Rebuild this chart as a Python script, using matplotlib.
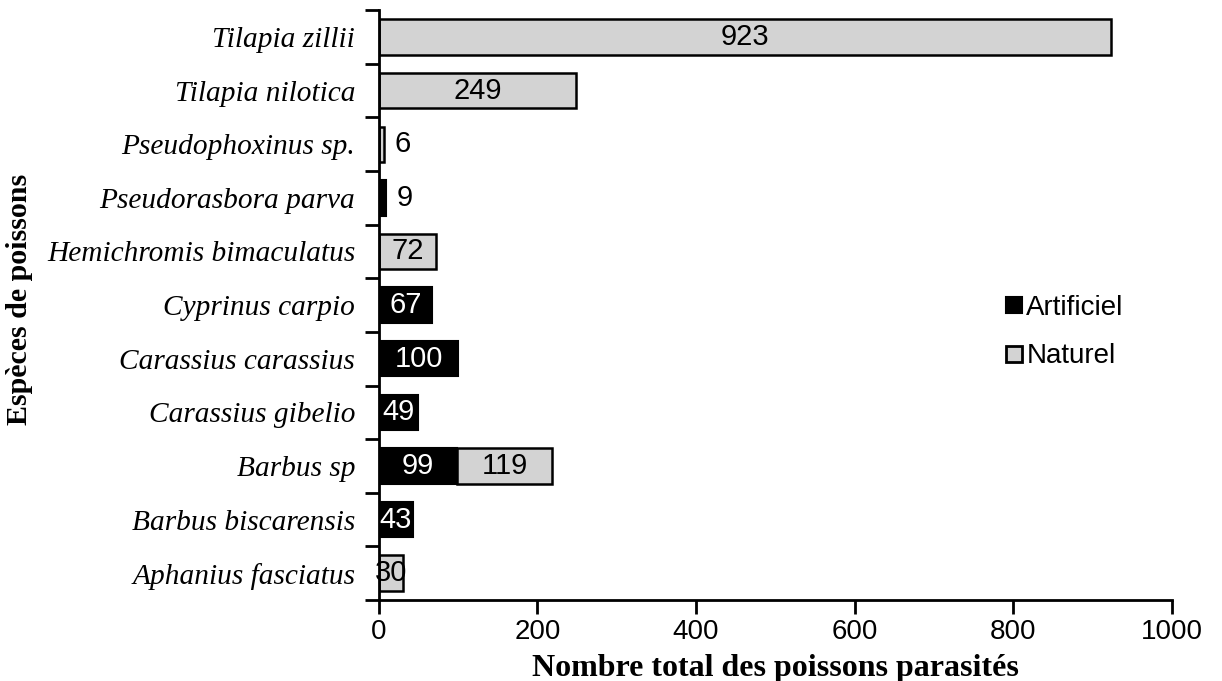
import numpy as np
import matplotlib.pyplot as plt
from matplotlib.lines import Line2D

# especes, du bas vers le haut
especes = ['Aphanius fasciatus', 'Barbus biscarensis', 'Barbus sp', 'Carassius gibelio',
           'Carassius carassius', 'Cyprinus carpio', 'Hemichromis bimaculatus',
           'Pseudorasbora parva', 'Pseudophoxinus sp.', 'Tilapia nilotica', 'Tilapia zillii']
artificiel = [0, 43, 99, 49, 100, 67, 0, 9, 0, 0, 0]
naturel = [30, 0, 119, 0, 0, 0, 72, 0, 6, 249, 923]
xticks = [0, 200, 400, 600, 800, 1000]

gris = '#d3d3d3'

fig = plt.figure(figsize=(12.22, 6.81), dpi=100)
ax = fig.add_axes([0.310, 0.119, 0.649, 0.866])

y = np.arange(len(especes))
h = 0.66
art = np.array(artificiel)
nat = np.array(naturel)

ax.barh(y[art > 0], art[art > 0], height=h, color='black', edgecolor='black', linewidth=1.5)
ax.barh(y[nat > 0], nat[nat > 0], left=art[nat > 0], height=h, color=gris,
        edgecolor='black', linewidth=1.8)

lab_font = dict(family='Liberation Sans', fontsize=21)
for i in range(len(especes)):
    for v, left, col in [(art[i], 0, 'white'), (nat[i], art[i], 'black')]:
        if v == 0:
            continue
        if v < 20:
            # petites valeurs : etiquette a droite de la barre
            ax.annotate(str(v), (left + v, y[i]), xytext=(8, 0), textcoords='offset points',
                        ha='left', va='center', color='black', **lab_font)
        else:
            ax.text(left + v / 2, y[i], str(v), ha='center', va='center', color=col, **lab_font)

ax.set_xlim(0, 1000)
ax.set_ylim(-0.5, len(especes) - 0.5)
ax.set_xticks(xticks)
ax.set_xticklabels([str(t) for t in xticks], family='Liberation Sans', fontsize=20)
ax.set_yticks(y)
ax.set_yticklabels(especes, family='Liberation Serif', style='italic', fontsize=21.2)
ax.tick_params(axis='y', length=0, pad=17)
ax.tick_params(axis='x', direction='out', length=10, width=2, pad=4)

# graduations entre les categories
ax.set_yticks(np.arange(-0.5, len(especes)), minor=True)
ax.tick_params(axis='y', which='minor', direction='out', length=10, width=2)

for s in ['top', 'right']:
    ax.spines[s].set_visible(False)
for s in ['left', 'bottom']:
    ax.spines[s].set_linewidth(2)

ax.set_xlabel('Nombre total des poissons parasités', family='Liberation Serif',
              fontweight='bold', fontsize=23, labelpad=6)
ax.set_ylabel('Espèces de poissons', family='Liberation Serif', fontweight='bold',
              fontsize=21.6)
ax.yaxis.set_label_coords(-0.436, 0.51)

handles = [Line2D([], [], marker='s', linestyle='none', markersize=11, markerfacecolor='black',
                  markeredgecolor='black', markeredgewidth=1.5),
           Line2D([], [], marker='s', linestyle='none', markersize=11, markerfacecolor=gris,
                  markeredgecolor='black', markeredgewidth=2)]
ax.legend(handles, ['Artificiel', 'Naturel'], loc='center left', bbox_to_anchor=(0.785, 0.454),
          frameon=False, prop={'family': 'Liberation Sans', 'size': 20},
          handletextpad=0.0, handlelength=0.9, labelspacing=0.8,
          borderpad=0, borderaxespad=0)

fig.savefig('out.png', dpi=100)
